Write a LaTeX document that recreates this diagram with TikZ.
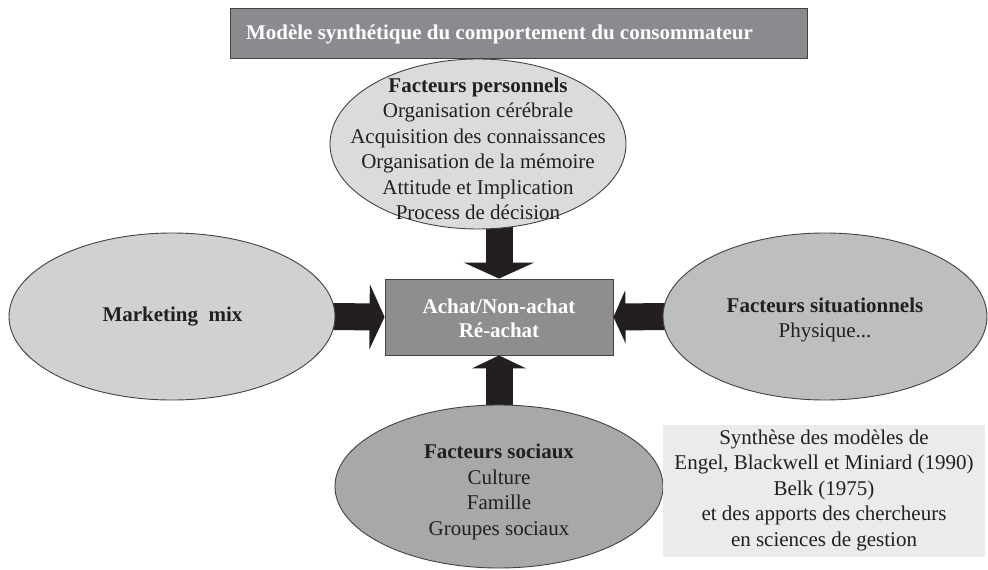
\documentclass[tikz,border=0pt]{standalone}
\usepackage{fontspec}
\setmainfont{Liberation Serif}
\usetikzlibrary{shapes.geometric,arrows.meta,backgrounds}
\definecolor{ink}{HTML}{231F20}
\definecolor{titlegray}{HTML}{8A8B8F}
\definecolor{boxgray}{HTML}{8E8E90}
\definecolor{persgray}{HTML}{DADBDC}
\definecolor{mktgray}{HTML}{D0D1D3}
\definecolor{sitgray}{HTML}{BDBEC0}
\definecolor{socgray}{HTML}{A7A8AA}
\definecolor{notegray}{HTML}{EBEBEC}
\tikzset{
  ell/.style={ellipse, draw=ink!85, line width=0.9pt, inner sep=0pt},
  txt/.style={align=center, inner sep=0pt, text=ink, font=\fontsize{21}{25.5}\selectfont},
  wtxt/.style={align=center, inner sep=0pt, text=white, font=\fontsize{21}{24}\selectfont\bfseries},
  bigarrow/.style={draw=ink, line width=27pt, line cap=butt}
}
\begin{document}
\begin{tikzpicture}[x=1pt,y=-1pt]
\useasboundingbox (0,0) rectangle (988,570);
% title
\node[draw=ink!85, line width=0.9pt, fill=titlegray, minimum width=577pt, minimum height=50pt, inner sep=0pt] (title) at (518.5,33.5) {};
\node[wtxt] (titletext) at (499.5,34) {Modèle synthétique du comportement du consommateur};
% ellipses
\node[ell, fill=persgray, minimum width=296pt, minimum height=170pt] (pers) at (478,144) {};
\node[txt] (perstext) at (478,149) {\textbf{Facteurs personnels}\\Organisation cérébrale\\Acquisition des connaissances\\Organisation de la mémoire\\Attitude et Implication\\Process de décision};
\node[ell, fill=mktgray, minimum width=326pt, minimum height=167pt] (mkt) at (172,316.5) {};
\node[txt] (mkttext) at (172.5,317) {\textbf{Marketing\ \ mix}};
\node[ell, fill=sitgray, minimum width=324pt, minimum height=167pt] (sit) at (825,316.5) {};
\node[txt] (sittext) at (825,320) {\textbf{Facteurs situationnels}\\Physique...};
\node[ell, fill=socgray, minimum width=328pt, minimum height=163pt] (soc) at (499,486.5) {};
\node[txt] (soctext) at (499,492) {\textbf{Facteurs sociaux}\\Culture\\Famille\\Groupes sociaux};
% central box
\node[draw=ink!85, line width=0.9pt, fill=boxgray, minimum width=228pt, minimum height=76pt, inner sep=0pt] (box) at (499,317) {};
\node[wtxt] (boxtext) at (499,318) {Achat/Non-achat\\Ré-achat};
% note
\node[fill=notegray, minimum width=322pt, minimum height=132pt, inner sep=0pt] (note) at (824,491) {};
\node[txt] (notetext) at (824,490) {Synthèse des modèles de\\Engel, Blackwell et Miniard (1990)\\Belk (1975)\\et des apports des chercheurs\\en sciences de gestion};
% arrows
\begin{scope}[on background layer]
\draw[bigarrow, -{Triangle[width=70pt,length=16pt]}] ([yshift=10pt]box.north |- pers.south) -- (box.north);
\draw[bigarrow, -{Triangle[width=65pt,length=15pt]}] ([xshift=-10pt]mkt.east) -- (box.west);
\draw[bigarrow, -{Triangle[width=53pt,length=12pt]}] ([xshift=10pt]sit.west) -- (box.east);
\draw[bigarrow, -{Triangle[width=54pt,length=13pt]}] ([yshift=-10pt]soc.north) -- (box.south);
\end{scope}
\end{tikzpicture}
\end{document}
